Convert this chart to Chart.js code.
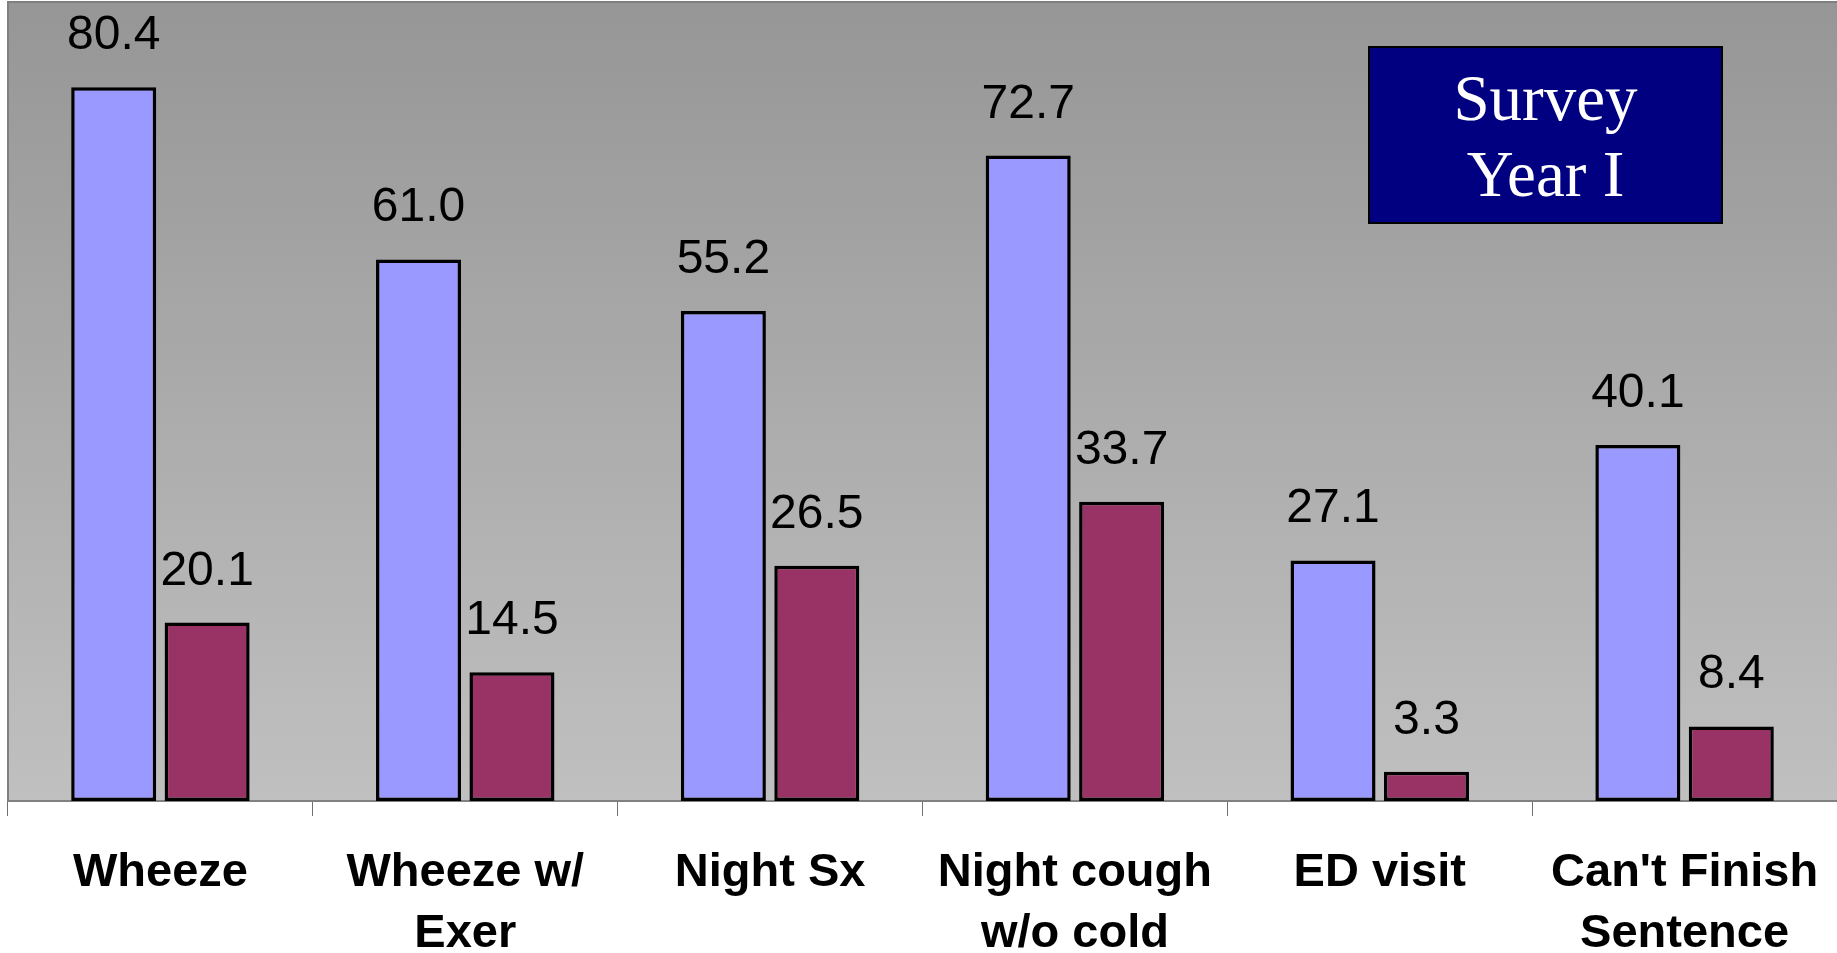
<!DOCTYPE html>
<html>
<head>
<meta charset="utf-8">
<style>
  html, body { margin: 0; padding: 0; background: #ffffff; }
  #wrap { position: relative; width: 1837px; height: 953px; }
  canvas { display: block; }
</style>
<script src="https://cdn.jsdelivr.net/npm/chart.js@4/dist/chart.umd.min.js"></script>
</head>
<body>
<div id="wrap"><canvas id="chart" width="1837" height="953"></canvas></div>
<script>
// Symptom categories (multi-line labels are arrays)
const categories = [
  'Wheeze',
  ['Wheeze w/', 'Exer'],
  'Night Sx',
  ['Night cough', 'w/o cold'],
  'ED visit',
  ["Can't Finish", 'Sentence']
];
// Percentages for the two groups
const seriesA = [80.4, 61.0, 55.2, 72.7, 27.1, 40.1];
const seriesB = [20.1, 14.5, 26.5, 33.7, 3.3, 8.4];
const boxLines = ['Survey', 'Year I'];

// Plot-area fill (vertical gradient) and frame
const plotBackground = {
  id: 'plotBackground',
  beforeDraw(chart) {
    const { ctx, chartArea: a } = chart;
    ctx.save();
    const g = ctx.createLinearGradient(0, a.top, 0, a.bottom);
    g.addColorStop(0, '#969696');
    g.addColorStop(1, '#c0c0c0');
    ctx.fillStyle = g;
    ctx.fillRect(a.left, a.top, a.right - a.left, a.bottom - a.top);
    ctx.strokeStyle = '#808080';
    ctx.lineWidth = 2;
    ctx.beginPath();
    ctx.moveTo(a.left, a.bottom);
    ctx.lineTo(a.left, a.top);
    ctx.lineTo(a.right, a.top);
    ctx.stroke();
    ctx.restore();
  }
};

// Value labels above each bar
const valueLabels = {
  id: 'valueLabels',
  afterDatasetsDraw(chart) {
    const { ctx } = chart;
    ctx.save();
    ctx.font = '48px "Liberation Sans", Arial, sans-serif';
    ctx.fillStyle = '#000000';
    ctx.textAlign = 'center';
    ctx.textBaseline = 'alphabetic';
    chart.data.datasets.forEach((ds, i) => {
      chart.getDatasetMeta(i).data.forEach((bar, j) => {
        ctx.fillText(ds.data[j].toFixed(1), bar.x, bar.y - 38);
      });
    });
    ctx.restore();
  }
};

// Caption box in the upper right of the plot
const captionBox = {
  id: 'captionBox',
  afterDraw(chart) {
    const { ctx, chartArea: a } = chart;
    const x = a.left + 1361, y = a.top + 45, w = 353, h = 176;
    ctx.save();
    ctx.fillStyle = '#000080';
    ctx.fillRect(x, y, w, h);
    ctx.strokeStyle = '#000000';
    ctx.lineWidth = 2;
    ctx.strokeRect(x, y, w, h);
    ctx.fillStyle = '#ffffff';
    ctx.font = '65px "Liberation Serif", "Times New Roman", serif';
    ctx.textAlign = 'center';
    ctx.textBaseline = 'alphabetic';
    ctx.fillText(boxLines[0], x + w / 2, y + 73);
    ctx.fillText(boxLines[1], x + w / 2, y + 149);
    ctx.restore();
  }
};

new Chart(document.getElementById('chart'), {
  type: 'bar',
  data: {
    labels: categories,
    datasets: [
      {
        label: 'Series 1',
        data: seriesA,
        backgroundColor: '#9999ff',
        borderColor: '#000000',
        borderWidth: 3.5,
        borderSkipped: false,
        barPercentage: 0.91,
        categoryPercentage: 0.613
      },
      {
        label: 'Series 2',
        data: seriesB,
        backgroundColor: '#993366',
        borderColor: '#000000',
        borderWidth: 3.5,
        borderSkipped: false,
        barPercentage: 0.91,
        categoryPercentage: 0.613
      }
    ]
  },
  options: {
    responsive: false,
    animation: false,
    layout: { padding: { left: 8, right: 0, top: 2, bottom: 0 } },
    plugins: {
      legend: { display: false },
      tooltip: { enabled: false },
      title: { display: false }
    },
    scales: {
      x: {
        grid: {
          display: true,
          drawOnChartArea: false,
          drawTicks: true,
          tickLength: 15,
          color: '#707070',
          lineWidth: 1,
          offset: true
        },
        border: { display: true, color: '#808080', width: 2 },
        ticks: {
          color: '#000000',
          font: { family: '"Liberation Sans", Arial, sans-serif', size: 47, weight: 'bold', lineHeight: 1.3 },
          padding: 26,
          maxRotation: 0,
          minRotation: 0,
          autoSkip: false
        },
        afterFit(scale) {
          // fixed axis band; keep the plot running edge to edge
          scale.height = 152;
          scale.paddingLeft = 0;
          scale.paddingRight = 0;
        }
      },
      y: {
        display: false,
        min: 0,
        max: 90
      }
    }
  },
  plugins: [plotBackground, valueLabels, captionBox]
});
</script>
</body>
</html>
